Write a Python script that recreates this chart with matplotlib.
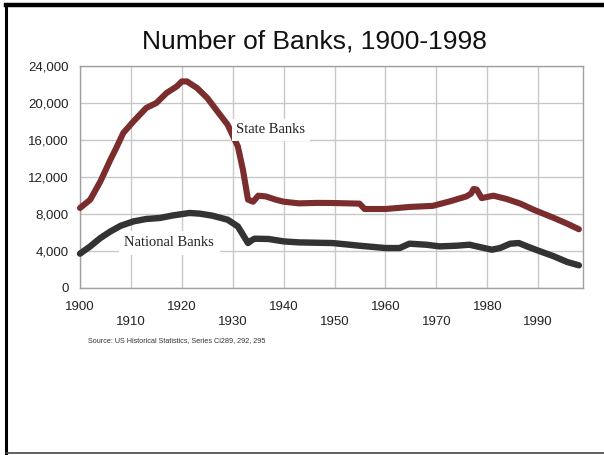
import matplotlib
matplotlib.use("Agg")
import matplotlib.pyplot as plt
from matplotlib.lines import Line2D
from matplotlib.ticker import FixedLocator, FuncFormatter

# State banks
state_years = [1900, 1902, 1904, 1906, 1907, 1908.5, 1910.5, 1913, 1915, 1917, 1919,
               1920, 1921, 1923, 1925, 1927, 1929, 1931, 1932, 1933, 1934,
               1935, 1936.5, 1938.5, 1940, 1943, 1946.5, 1949.6, 1954.9, 1955.9,
               1960, 1964.7, 1969.3, 1972.6, 1975.9, 1976.8, 1977.3, 1977.9,
               1978.9, 1981.2, 1983.8, 1986.5, 1989.1, 1993.1, 1995.7, 1998]
state_banks = [8650, 9540, 11520, 13900, 15000, 16760, 18010, 19460, 20000, 21080, 21790,
               22330, 22330, 21620, 20540, 19090, 17650, 15310, 12790, 9550, 9330,
               9980, 9900, 9540, 9330, 9150, 9200, 9190, 9120, 8540,
               8540, 8760, 8880, 9360, 9900, 10200, 10700, 10650,
               9720, 9980, 9620, 9120, 8460, 7570, 6950, 6350]

# National banks
nat_years = [1900, 1902, 1904, 1906, 1908, 1910.5, 1913, 1915.7, 1918.3, 1921.5,
             1923.5, 1926, 1929, 1931, 1932, 1933, 1933.7, 1934.3, 1937, 1940,
             1943, 1949.6, 1954.9, 1960, 1962.8, 1964.7, 1968, 1970.6, 1973.9,
             1976.5, 1978.5, 1980.9, 1982.5, 1984.5, 1986.2, 1987.8, 1990.4,
             1993.1, 1995.7, 1998]
nat_banks = [3710, 4500, 5400, 6120, 6730, 7200, 7460, 7570, 7850, 8110,
             8040, 7820, 7380, 6660, 5760, 4860, 5150, 5330, 5300, 5040,
             4930, 4860, 4570, 4320, 4320, 4790, 4680, 4500, 4570,
             4680, 4430, 4140, 4320, 4790, 4860, 4500, 3960,
             3420, 2810, 2450]

y_ticks = [0, 4000, 8000, 12000, 16000, 20000, 24000]
x_major = [1900, 1920, 1940, 1960, 1980]
x_minor = [1910, 1930, 1950, 1970, 1990]

fig = plt.figure(figsize=(6.04, 4.55), dpi=100)
ax = fig.add_axes([80 / 604, 1 - 288 / 455, 503 / 604, 222 / 455])

ax.plot(state_years, state_banks, color="#7b2c2c", lw=4.4,
        solid_capstyle="round", solid_joinstyle="round", clip_on=False, zorder=3)
ax.plot(nat_years, nat_banks, color="#333333", lw=4.6,
        solid_capstyle="round", solid_joinstyle="round", clip_on=False, zorder=3)

ax.set_xlim(1900, 1998.8)
ax.set_ylim(0, 24000)

ax.yaxis.set_major_locator(FixedLocator(y_ticks))
ax.yaxis.set_major_formatter(FuncFormatter(lambda v, p: f"{int(v):,}"))
ax.xaxis.set_major_locator(FixedLocator(x_major))
ax.xaxis.set_minor_locator(FixedLocator(x_minor))
ax.xaxis.set_minor_formatter(FuncFormatter(lambda v, p: f"{int(v)}"))

ax.tick_params(axis="both", which="both", length=0, labelsize=9.5,
               labelcolor="#222222")
ax.tick_params(axis="x", which="major", pad=9)
ax.tick_params(axis="x", which="minor", pad=20)
ax.tick_params(axis="y", pad=8)
for lab in ax.get_xticklabels(which="both") + ax.get_yticklabels():
    lab.set_fontfamily("Liberation Sans")

ax.grid(True, which="both", color="#c8c8c8", lw=1.0)
ax.set_axisbelow(True)
for s in ax.spines.values():
    s.set_color("#a0a0a0")
    s.set_linewidth(1.0)

ax.text(1937.5, 17100, "State Banks", family="Liberation Serif", fontsize=10.5,
        ha="center", va="center", color="#222222",
        bbox=dict(facecolor="white", edgecolor="none", pad=3), zorder=4)
ax.text(1917.5, 4900, "National Banks", family="Liberation Serif", fontsize=10.5,
        ha="center", va="center", color="#222222",
        bbox=dict(facecolor="white", edgecolor="none", pad=4), zorder=4)

fig.text(314 / 604, 1 - 42 / 455, "Number of Banks, 1900-1998",
         family="Liberation Sans", fontsize=19, ha="center", va="center",
         color="#111111")
fig.text(88 / 604, 1 - 341 / 455,
         "Source: US Historical Statistics, Series Ci289, 292, 295",
         family="Liberation Sans", fontsize=5.2, ha="left", va="center",
         color="#333333")

# slide border: top, left, bottom
fig.add_artist(Line2D([6 / 604, 1], [1 - 4.5 / 455] * 2, color="black", lw=3.2,
                      transform=fig.transFigure))
fig.add_artist(Line2D([6 / 604] * 2, [1 - 4.5 / 455, 1 - 453 / 455], color="black",
                      lw=2.2, transform=fig.transFigure))
fig.add_artist(Line2D([6 / 604, 1], [1 - 453 / 455] * 2, color="#444444", lw=1.2,
                      transform=fig.transFigure))

fig.savefig("out.png", dpi=100)
